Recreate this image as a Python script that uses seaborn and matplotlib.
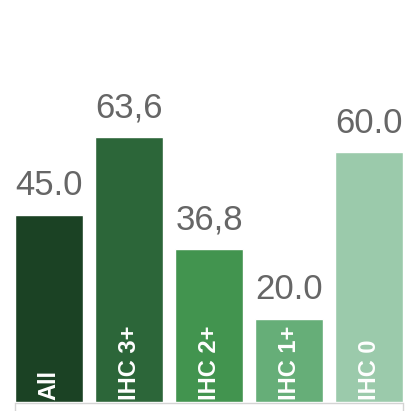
import matplotlib
matplotlib.use("Agg")
import matplotlib.pyplot as plt
import seaborn as sns
import pandas as pd
from matplotlib.lines import Line2D

categories = ["All", "IHC 3+", "IHC 2+", "IHC 1+", "IHC 0"]
values = [45.0, 63.6, 36.8, 20.0, 60.0]
decimal_marks = [".", ",", ",", ".", "."]
colors = ["#1b4224", "#2c6639", "#42944f", "#66ae78", "#9bcaab"]

sns.set_theme(style="white")
plt.rcParams["font.family"] = ["Liberation Sans", "DejaVu Sans"]

df = pd.DataFrame({"group": categories, "rate": values})

fig = plt.figure(figsize=(4.06, 4.11), dpi=100)
ax = fig.add_axes([15 / 406, 9 / 411, 388 / 406, 402 / 411])

sns.barplot(data=df, x="group", y="rate", hue="group", palette=colors,
            width=0.86, saturation=1, legend=False, ax=ax)

ax.set_xlim(-0.425, 4.425)
ax.set_ylim(0, 402 / 4.16)
ax.set_xlabel("")
ax.set_ylabel("")
ax.set_xticks([])
ax.set_yticks([])
for side in ["top", "left", "right"]:
    ax.spines[side].set_visible(False)
ax.spines["bottom"].set_color("#d4d4d4")
ax.spines["bottom"].set_linewidth(1.0)
ax.spines["bottom"].set_position(("outward", 1))

# short end markers under the baseline
for xe in (0, 1):
    ax.add_line(Line2D([xe, xe], [-0.004, -0.03], transform=ax.transAxes,
                       color="#d4d4d4", lw=1.0, clip_on=False))

for i, (cat, val, mark) in enumerate(zip(categories, values, decimal_marks)):
    text = f"{val:.1f}".replace(".", mark)
    ax.annotate(text, xy=(i, val), xytext=(0, 9), textcoords="offset points",
                ha="center", va="bottom", fontsize=25, color="#666666")
    ax.annotate(cat, xy=(i, 0), xytext=(0, 1.5), textcoords="offset points",
                ha="center", va="bottom", rotation=90, fontsize=17,
                fontweight="bold", color="white")

fig.savefig("out.png", dpi=100)
